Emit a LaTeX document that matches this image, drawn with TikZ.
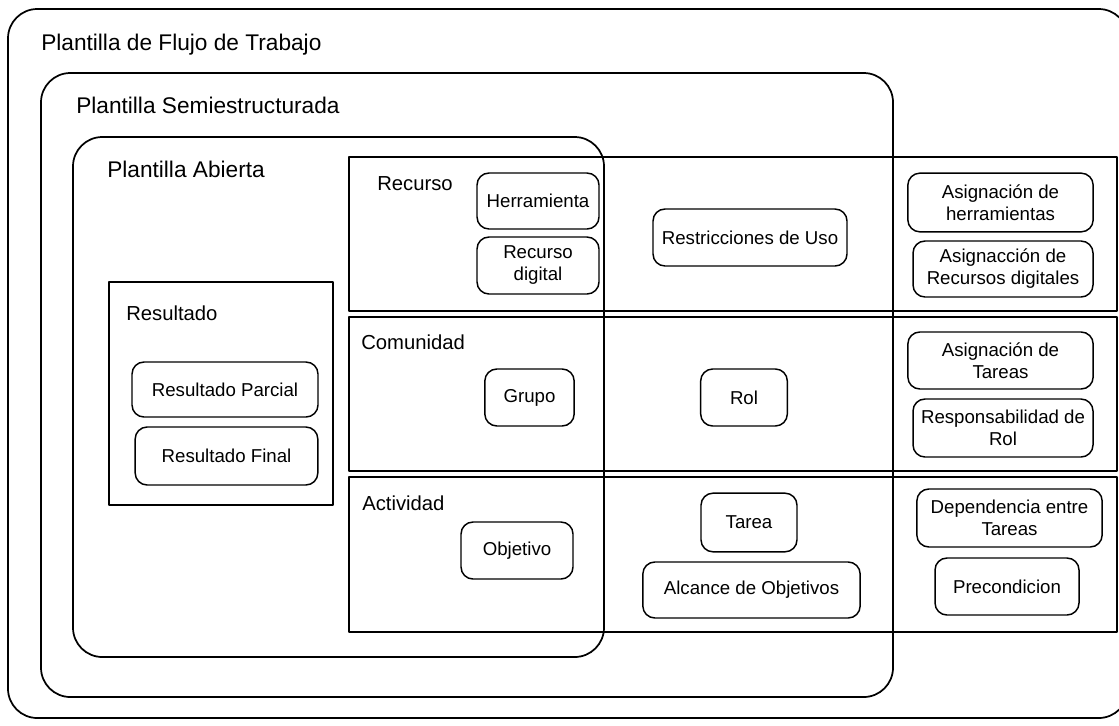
\documentclass[tikz,border=0pt]{standalone}
\usepackage{fontspec}
\setmainfont{Liberation Sans}
\newcommand{\titulo}{\fontsize{17}{20}\selectfont}
\newcommand{\seccion}{\fontsize{15.2}{18}\selectfont}
\newcommand{\chico}{\fontsize{14}{16.5}\selectfont}
\tikzset{
	marco/.style={line width=1.3pt, rounded corners=22pt},
	fila/.style={line width=1.1pt},
	elem/.style={draw, line width=1.1pt, rounded corners=9pt, align=center, font=\chico, inner sep=0pt},
	rotulo/.style={anchor=base west, inner sep=0pt},
}
\begin{document}
\begin{tikzpicture}[x=0.75pt, y=-0.75pt, line join=round]
	\clip (0,0) rectangle (1119,725);
	% filas
	\draw[fila] (349,157) rectangle (1117,311);
	\draw[fila] (349,317) rectangle (1117,471);
	\draw[fila] (349,477) rectangle (1117,632);
	\draw[fila] (109,282) rectangle (333,505);
	% plantillas
	\draw[marco] (8,9) rectangle (1128,718);
	\draw[marco] (41,73) rectangle (893,697);
	\draw[marco] (73,137) rectangle (604,657);
	\node[rotulo, font=\titulo] (flujo) at (41,50) {Plantilla de Flujo de Trabajo};
	\node[rotulo, font=\titulo] (semi) at (76,113) {Plantilla Semiestructurada};
	\node[rotulo, font=\titulo] (abierta) at (107,177) {Plantilla Abierta};
	\node[rotulo, font=\seccion] (recurso) at (377,190) {Recurso};
	\node[rotulo, font=\seccion] (comunidad) at (361,349) {Comunidad};
	\node[rotulo, font=\seccion] (actividad) at (362,510) {Actividad};
	\node[rotulo, font=\seccion] (resultado) at (126,320) {Resultado};
	% elementos
	\node[elem, minimum width=91.5pt, minimum height=42pt] (herr) at (538,201) {Herramienta};
	\node[elem, minimum width=91.5pt, minimum height=42.75pt] (recdig) at (538,265.5) {Recurso\\digital};
	\node[elem, minimum width=145.5pt, minimum height=42.75pt] (restr) at (750,237.5) {Restricciones de Uso};
	\node[elem, minimum width=139pt, minimum height=44pt] (asigherr) at (1000.5,202.5) {Asignación de\\herramientas};
	\node[elem, minimum width=135pt, minimum height=42pt] (asigrec) at (1003,269) {Asignacción de\\Recursos digitales};
	\node[elem, minimum width=67pt, minimum height=42.75pt] (grupo) at (529.5,397.5) {Grupo};
	\node[elem, minimum width=65pt, minimum height=42.75pt] (rol) at (744,397.5) {Rol};
	\node[elem, minimum width=139pt, minimum height=42.75pt] (asigtar) at (1000.5,360.5) {Asignación de\\Tareas};
	\node[elem, minimum width=135pt, minimum height=43.5pt] (resprol) at (1003,428) {Responsabilidad de\\Rol};
	\node[elem, minimum width=84pt, minimum height=42.75pt] (objetivo) at (517,550.5) {Objetivo};
	\node[elem, minimum width=72pt, minimum height=44pt] (tarea) at (749,522.5) {Tarea};
	\node[elem, minimum width=163pt, minimum height=42pt] (alcance) at (751.5,590) {Alcance de Objetivos};
	\node[elem, minimum width=139pt, minimum height=43.5pt] (depend) at (1009.5,518) {Dependencia entre\\Tareas};
	\node[elem, minimum width=108pt, minimum height=42.75pt] (precond) at (1007,586.5) {Precondicion};
	\node[elem, minimum width=139.5pt, minimum height=41.25pt] (rparcial) at (225,389.5) {Resultado Parcial};
	\node[elem, minimum width=137pt, minimum height=43.5pt] (rfinal) at (226.5,456) {Resultado Final};
\end{tikzpicture}
\end{document}
